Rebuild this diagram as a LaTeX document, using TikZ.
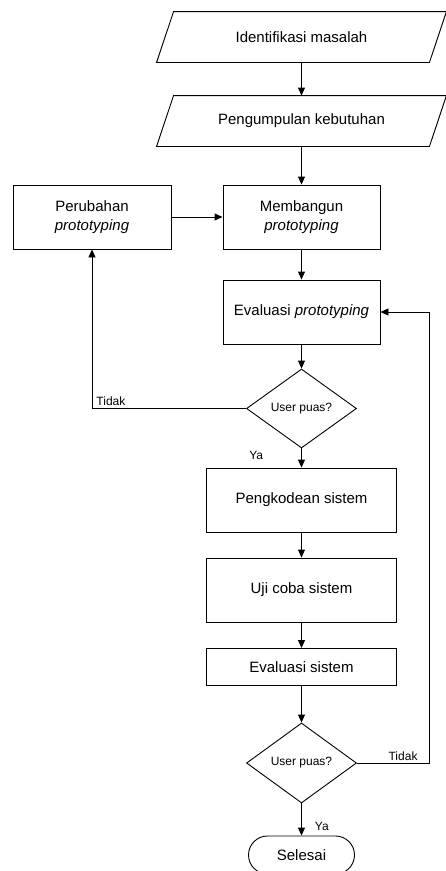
\documentclass[tikz,border=0pt]{standalone}
\usepackage{fontspec}
\setmainfont{Liberation Sans}
\usetikzlibrary{arrows.meta,shapes.geometric}
\begin{document}
\begin{tikzpicture}[x=1pt,y=-1pt,
  line width=0.9pt,
  every node/.style={inner sep=0pt, font=\fontsize{15}{19}\selectfont},
  iobox/.style={minimum width=272pt, minimum height=50pt},
  narrowbox/.style={draw, rectangle, align=center, minimum width=157pt, minimum height=64pt},
  widebox/.style={draw, rectangle, align=center, minimum width=190pt, minimum height=64pt},
  decision/.style={draw, diamond, minimum width=110pt, minimum height=79pt, font=\fontsize{12}{14}\selectfont},
  terminal/.style={draw, rectangle, rounded corners=19pt, minimum width=106pt, minimum height=38pt},
  lbl/.style={font=\fontsize{12}{14}\selectfont, inner sep=1pt},
  arr/.style={-{Triangle[length=8pt,width=7pt]}}
]
\useasboundingbox (0,0) rectangle (446,871);

% input/output parallelograms
\node[iobox] (io1) at (301.5,37) {Identifikasi masalah};
\draw ([xshift=8.5pt]io1.north west) -- ([xshift=8.5pt]io1.north east)
   -- ([xshift=-8.5pt]io1.south east) -- ([xshift=-8.5pt]io1.south west) -- cycle;
\node[iobox] (io2) at (301.5,121) {Pengumpulan kebutuhan};
\draw ([xshift=8.5pt]io2.north west) -- ([xshift=8.5pt]io2.north east)
   -- ([xshift=-8.5pt]io2.south east) -- ([xshift=-8.5pt]io2.south west) -- cycle;

% process boxes
\node[narrowbox, minimum width=158pt] (ubah) at (92,217) {Perubahan\\\textit{prototyping}};
\node[narrowbox] (bangun) at (301.5,217) {Membangun\\\textit{prototyping}};
\node[narrowbox] (evproto) at (301.5,312) {Evaluasi \textit{prototyping}};
\node[decision] (d1) at (301.5,408.5) {User puas?};
\node[widebox] (kode) at (301.5,500) {Pengkodean sistem};
\node[widebox] (uji) at (301.5,590) {Uji coba sistem};
\node[widebox, minimum height=37pt] (evsis) at (301.5,667) {Evaluasi sistem};
\node[decision, minimum height=80pt] (d2) at (301.5,763) {User puas?};
\node[terminal] (selesai) at (301.5,855) {Selesai};

% connectors
\draw[arr] (io1) -- (io2);
\draw[arr] (io2) -- (bangun);
\draw[arr] (ubah) -- (bangun);
\draw[arr] (bangun) -- (evproto);
\draw[arr] (evproto) -- (d1);
\coordinate (c1) at (ubah.south |- d1.west);
\draw[arr] (d1.west) -- (c1) -- (ubah.south);
\node[lbl, anchor=south west] at ([xshift=3pt,yshift=1pt]c1) {Tidak};
\draw[arr] (d1) -- (kode);
\node[lbl, anchor=north east] at ([xshift=-37pt,yshift=-1pt]d1.south) {Ya};
\draw[arr] (kode) -- (uji);
\draw[arr] (uji) -- (evsis);
\draw[arr] (evsis) -- (d2);
\coordinate (c2) at ([xshift=72pt]d2.east);
\draw[arr] (d2.east) -- (c2) |- (evproto.east);
\node[lbl, anchor=south east] at ([xshift=-10pt,yshift=1pt]c2) {Tidak};
\draw[arr] (d2) -- (selesai);
\node[lbl, anchor=west] at ([xshift=12pt,yshift=-23pt]d2.south) {Ya};
\end{tikzpicture}
\end{document}
